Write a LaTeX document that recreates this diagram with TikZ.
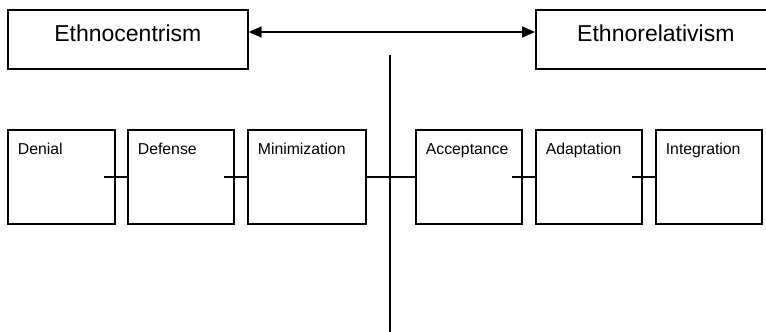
\documentclass[tikz,border=0pt]{standalone}
\usepackage{fontspec}
\setmainfont{Liberation Sans}
\usetikzlibrary{arrows.meta,positioning,calc}
\begin{document}
\begin{tikzpicture}[x=1pt,y=1pt,
  line width=1.7pt,
  bigbox/.style={draw=black, line width=1.7pt, anchor=north west, minimum width=240pt, minimum height=59pt,
     font=\fontsize{23}{27}\selectfont, text height=16.5pt, text depth=11.5pt, inner sep=0pt},
  stagebox/.style={draw=black, line width=1.7pt, anchor=north west, minimum height=94pt, inner sep=0pt},
  stagelabel/.style={anchor=north west, font=\fontsize{15.8}{18}\selectfont, inner sep=0pt, text height=11.6pt, text depth=3.5pt, xshift=10pt, yshift=-13pt},
  conn/.style={draw=black, line width=1.7pt},
  dbl/.style={draw=black, line width=1.7pt, {Triangle[length=13pt,width=11pt]}-{Triangle[length=13pt,width=11pt]}}
]
\useasboundingbox (0,0) rectangle (766,-332);
\fill[white] (0,0) rectangle (766,-332);

% top boxes
\node[bigbox] (ethc) at (7,-9) {Ethnocentrism};
\node[bigbox] (ethr) at (535,-9) {Ethnorelativism};
\coordinate (arrowL) at (ethc.east |- 0,-32);
\coordinate (arrowR) at (ethr.west |- 0,-32);
\draw[dbl] (arrowL) -- (arrowR);

% vertical divider
\coordinate (vtop) at (390,-55);
\coordinate (vbot) at (390,-332);
\draw[conn] (vtop) -- (vbot);

% stage boxes
\node[stagebox, minimum width=107pt] (denial) at (7,-129) {};
\node[stagebox, minimum width=106pt] (defense) at (127,-129) {};
\node[stagebox, minimum width=118pt] (minim) at (247,-129) {};
\node[stagebox, minimum width=106pt] (accept) at (415,-129) {};
\node[stagebox, minimum width=106pt] (adapt) at (535,-129) {};
\node[stagebox, minimum width=106pt] (integ) at (655,-129) {};

\node[stagelabel] (ldenial) at (denial.north west) {Denial};
\node[stagelabel] (ldefense) at (defense.north west) {Defense};
\node[stagelabel] (lminim) at (minim.north west) {Minimization};
\node[stagelabel] (laccept) at (accept.north west) {Acceptance};
\node[stagelabel] (ladapt) at (adapt.north west) {Adaptation};
\node[stagelabel] (linteg) at (integ.north west) {Integration};

% connectors
\draw[conn] ([xshift=-12pt]denial.east) -- (defense.west);
\draw[conn] ([xshift=-11pt]defense.east) -- (minim.west);
\draw[conn] (minim.east) -- (accept.west);
\draw[conn] ([xshift=-11pt]accept.east) -- (adapt.west);
\draw[conn] ([xshift=-11pt]adapt.east) -- (integ.west);
\end{tikzpicture}
\end{document}
